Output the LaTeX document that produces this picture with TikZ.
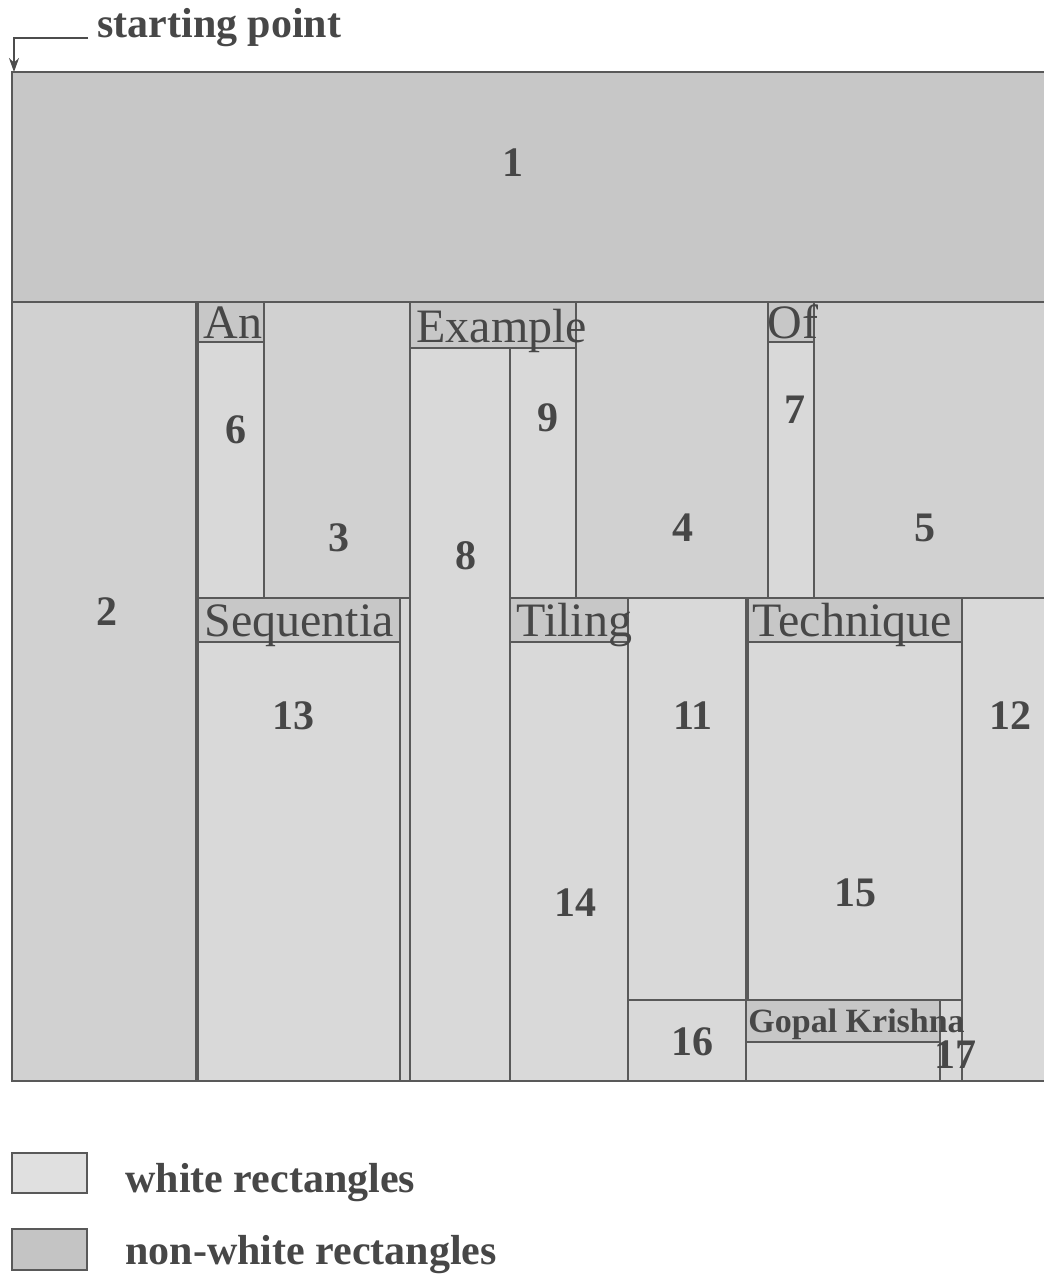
\documentclass[tikz,border=0pt]{standalone}
\usepackage{fontspec}
\setmainfont{Liberation Serif}
\usetikzlibrary{arrows.meta}
\tikzset{
  region/.style={draw=black!65, line width=1.2pt},
  wrect/.style={region, fill=black!15},
  mrect/.style={region, fill=black!18},
  drect/.style={region, fill=black!22},
  nrect/.style={region, fill=black!22},
  num/.style={font=\bfseries\fontsize{21}{21}\selectfont, text=black!72, inner sep=0pt},
  word/.style={font=\fontsize{24}{24}\selectfont, text=black!72, inner sep=0pt},
  gword/.style={font=\bfseries\fontsize{17}{17}\selectfont, text=black!72, inner sep=0pt},
  legtext/.style={font=\bfseries\fontsize{21}{21}\selectfont, text=black!72, inner sep=0pt, anchor=base west},
  pointer/.style={draw=black!70, line width=0.8pt, -{Stealth[length=7pt,width=5pt]}},
}
\begin{document}
\begin{tikzpicture}[x=0.5pt, y=-0.5pt]
\useasboundingbox[fill=white] (0,0) rectangle (1044,1281);

% starting point
\node[legtext] (start) at (97,37) {starting point};
\coordinate (corner) at (14,72);
\draw[pointer] (88,38) -| (corner);

% background
\fill[black!16] (12,72) rectangle (1046,1081);

% white rectangles
\draw[drect] (12,72) rectangle (1046,302);
\draw[mrect] (12,302) rectangle (196,1081);
\draw[wrect] (198,342) rectangle (264,598);
\draw[mrect] (264,302) rectangle (410,598);
\draw[wrect] (198,642) rectangle (400,1081);
\draw[wrect] (410,348) rectangle (510,1081);
\draw[wrect] (510,348) rectangle (576,598);
\draw[mrect] (576,302) rectangle (768,598);
\draw[wrect] (510,642) rectangle (628,1081);
\draw[wrect] (628,598) rectangle (746,1000);
\draw[wrect] (628,1000) rectangle (746,1081);
\draw[wrect] (768,342) rectangle (814,598);
\draw[mrect] (814,302) rectangle (1046,598);
\draw[wrect] (748,642) rectangle (962,1000);
\draw[wrect] (746,1042) rectangle (940,1081);
\draw[wrect] (940,1000) rectangle (962,1081);
\draw[wrect] (962,598) rectangle (1046,1081);

% non-white rectangles (words)
\draw[nrect] (198,302) rectangle (264,342);
\draw[nrect] (410,302) rectangle (576,348);
\draw[nrect] (768,302) rectangle (814,342);
\draw[nrect] (198,598) rectangle (400,642);
\draw[nrect] (510,598) rectangle (628,642);
\draw[nrect] (748,598) rectangle (962,642);
\draw[nrect] (746,1000) rectangle (940,1042);

% outer frame
\draw[region] (1046,72) -- (12,72) -- (12,1081) -- (1046,1081);

% words
\node[word, anchor=base west] (wAn) at (203,338) {An};
\node[word, anchor=base west] (wExample) at (416,342) {Example};
\node[word, anchor=base west] (wOf) at (767,338) {Of};
\node[word, anchor=base west] (wSeq) at (204,636) {Sequentia};
\node[word, anchor=base west] (wTil) at (516,636) {Tiling};
\node[word, anchor=base west] (wTech) at (752,636) {Technique};
\node[gword, anchor=base west] (wGopal) at (748,1032) {Gopal Krishna};

% numbers
\node[num] (n1) at (513,163) {1};
\node[num] (n2) at (107,612) {2};
\node[num] (n3) at (339,538) {3};
\node[num] (n4) at (683,528) {4};
\node[num] (n5) at (925,528) {5};
\node[num] (n6) at (236,430) {6};
\node[num] (n7) at (795,410) {7};
\node[num] (n8) at (466,556) {8};
\node[num] (n9) at (548,418) {9};
\node[num] (n11) at (693,716) {11};
\node[num] (n12) at (1010,716) {12};
\node[num] (n13) at (293,716) {13};
\node[num] (n14) at (575,903) {14};
\node[num] (n15) at (855,893) {15};
\node[num] (n16) at (692,1042) {16};
\node[num] (n17) at (955,1055) {17};

% legend
\draw[region, line width=1pt, fill=black!12] (12,1153) rectangle (87,1193);
\draw[region, line width=1pt, fill=black!23] (12,1229) rectangle (87,1270);
\node[legtext] (lw) at (125,1192) {white rectangles};
\node[legtext] (ln) at (125,1264) {non-white rectangles};
\end{tikzpicture}
\end{document}
